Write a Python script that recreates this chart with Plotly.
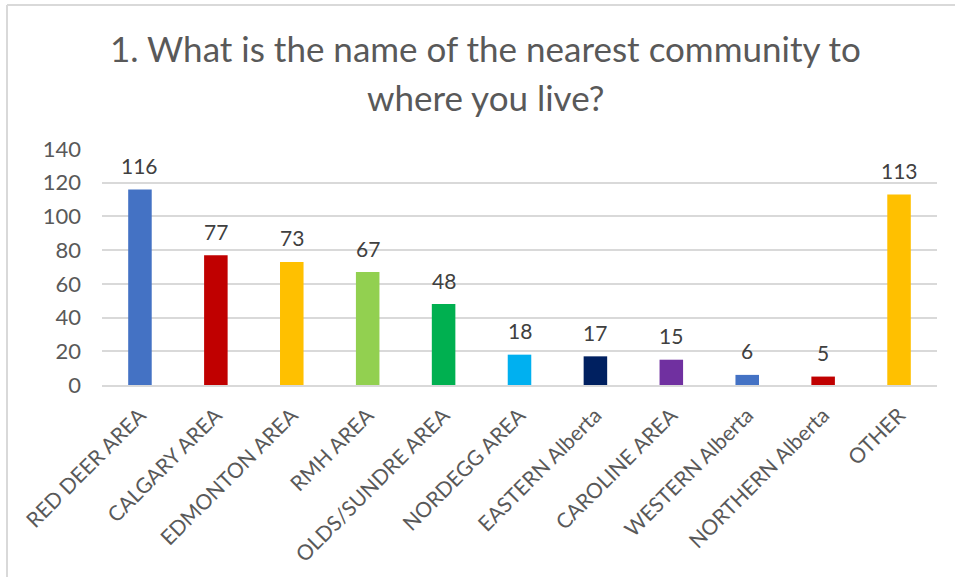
import plotly.graph_objects as go

# Survey responses by nearest community
communities = [
    "RED DEER AREA", "CALGARY AREA", "EDMONTON AREA", "RMH AREA",
    "OLDS/SUNDRE AREA", "NORDEGG AREA", "EASTERN Alberta", "CAROLINE AREA",
    "WESTERN Alberta", "NORTHERN Alberta", "OTHER",
]
responses = [116, 77, 73, 67, 48, 18, 17, 15, 6, 5, 113]
bar_colors = [
    "#4472C4", "#C00000", "#FFC000", "#92D050", "#00B050", "#00B0F0",
    "#002060", "#7030A0", "#4472C4", "#C00000", "#FFC000",
]
y_ticks = [0, 20, 40, 60, 80, 100, 120, 140]
title_lines = ["1. What is the name of the nearest community to", "where you live?"]

FONT = "Lato, 'Open Sans', sans-serif"

fig = go.Figure(
    go.Bar(
        x=communities,
        y=responses,
        marker=dict(color=bar_colors, line=dict(width=0)),
        hoverinfo="x+y",
    )
)

W, H = 955, 577
ml, mr, mt, mb = 102, 18, 149, 192
pw, ph = W - ml - mr, H - mt - mb

def px_to_paper_x(px):
    return (px - ml) / pw

def px_to_paper_y(py):
    return (H - mb - py) / ph

# Title, two centred lines
annotations = [
    dict(text=t, xref="paper", yref="paper", x=px_to_paper_x(485), y=px_to_paper_y(yc),
         xanchor="center", yanchor="middle", showarrow=False,
         font=dict(family=FONT, size=35, color="#595959"))
    for t, yc in zip(title_lines, [48, 97])
]

# Value labels above each bar
annotations += [
    dict(text=str(v), x=c, y=v, xref="x", yref="y",
         xanchor="center", yanchor="middle", yshift=24, showarrow=False,
         font=dict(family=FONT, size=21, color="#404040"))
    for c, v in zip(communities, responses)
]

fig.update_layout(
    width=W,
    height=H,
    margin=dict(l=ml, r=mr, t=mt, b=mb),
    paper_bgcolor="white",
    plot_bgcolor="white",
    showlegend=False,
    bargap=0.69,
    annotations=annotations,
    xaxis=dict(
        tickangle=-45,
        tickfont=dict(family=FONT, size=21, color="#595959"),
        showline=True,
        linecolor="#D9D9D9",
        linewidth=1.5,
        showgrid=False,
        ticks="",
        ticklabelstandoff=8,
        fixedrange=True,
    ),
    yaxis=dict(
        range=[0, 140],
        tickvals=y_ticks,
        tickfont=dict(family=FONT, size=22, color="#595959"),
        showgrid=True,
        gridcolor="#D9D9D9",
        gridwidth=1.5,
        zeroline=False,
        showline=False,
        ticks="",
        ticklabelstandoff=20,
        fixedrange=True,
    ),
    shapes=[
        # chart frame (top and left edges)
        dict(type="line", xref="paper", yref="paper",
             x0=px_to_paper_x(7), x1=px_to_paper_x(W + 5),
             y0=px_to_paper_y(5), y1=px_to_paper_y(5),
             line=dict(color="#D9D9D9", width=2)),
        dict(type="line", xref="paper", yref="paper",
             x0=px_to_paper_x(7), x1=px_to_paper_x(7),
             y0=px_to_paper_y(5), y1=px_to_paper_y(H + 5),
             line=dict(color="#D9D9D9", width=2)),
    ],
)

fig.write_html("out.html")
